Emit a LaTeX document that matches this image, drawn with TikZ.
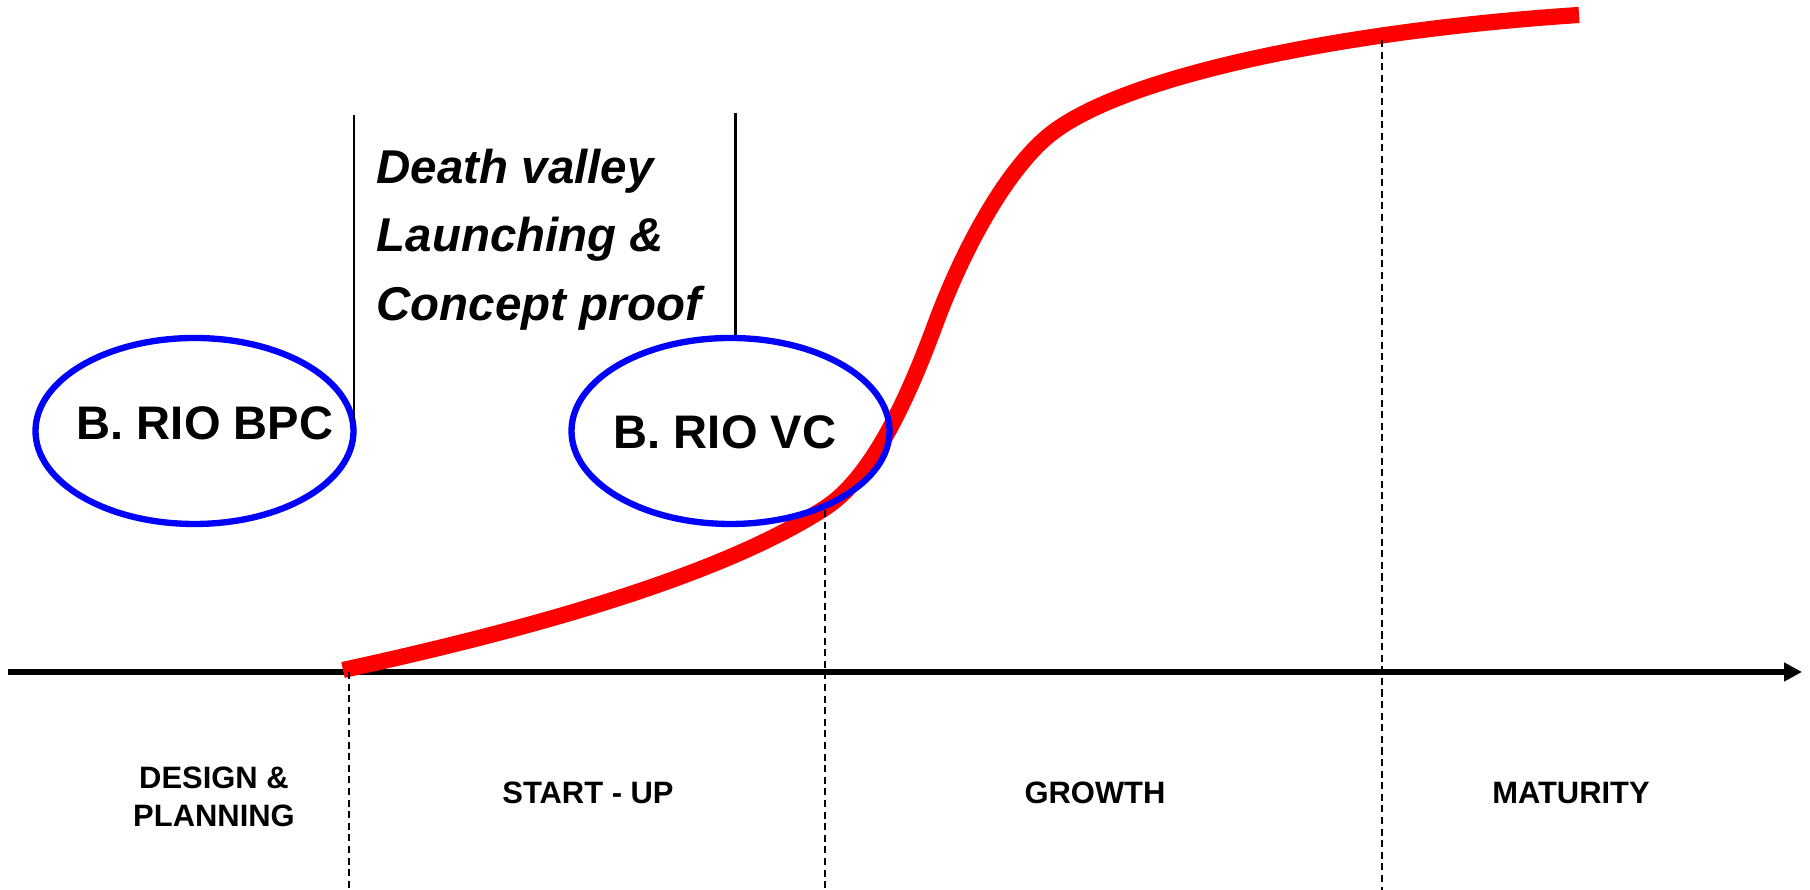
\documentclass[tikz,border=0pt]{standalone}
\usepackage{fontspec}
\setmainfont{Liberation Sans}
\usetikzlibrary{arrows.meta,shapes.geometric}
\tikzset{
	phase/.style={font=\fontsize{8.8pt}{11pt}\selectfont\bfseries, align=center, inner sep=0},
	fund/.style={draw=blue, line width=1.8pt, ellipse, minimum width=3.18cm, minimum height=1.86cm, inner sep=0},
	fundtext/.style={font=\fontsize{13.4pt}{16pt}\selectfont\bfseries, inner sep=0},
	divider/.style={line width=0.85pt},
	marker/.style={line width=0.6pt, dash pattern=on 2pt off 1.3pt}
}

\begin{document}
\begin{tikzpicture}
		%%%%% START %%%%%
		\useasboundingbox (0, 0) rectangle (18.1, 8.9);
		
		% time axis
		\draw[line width=1.8pt, -{Triangle[length=1.8mm, width=1.8mm]}] (0.08, 2.18) -- (18.02, 2.18);
		
		% life cycle curve
		\draw[red, line width=4.6pt] (3.43, 2.20) .. controls (5.45, 2.64) and (7.25, 3.17) .. (8.25, 3.82)
			.. controls (8.65, 4.08) and (9.00, 4.70) .. (9.35, 5.65)
			.. controls (9.65, 6.46) and (10.07, 7.19) .. (10.47, 7.53)
			.. controls (11.20, 8.15) and (13.50, 8.60) .. (15.79, 8.75);
		
		\coordinate (p1) at (3.49, 2.18);
		\coordinate (p2) at (8.25, 3.80);
		\coordinate (p3) at (13.82, 8.50);
		\draw[marker] (p1) -- (p1 |- 0, 0);
		\draw[marker] (p2) -- (p2 |- 0, 0);
		\draw[marker] (p3) -- (p3 |- 0, 0);
		
		% funds
		\node[fund] (bpc) at (1.945, 4.59) {};
		\node[fund] (vc) at (7.305, 4.59) {};
		\node[fundtext] (bpctxt) at (2.05, 4.67) {B. RIO BPC};
		\node[fundtext] (vctxt) at (7.25, 4.58) {B. RIO VC};
		
		% death valley
		\coordinate (d1) at (3.54, 7.75);
		\coordinate (d2) at (7.35, 7.77);
		\draw[divider] (d1) -- (3.54, 4.70);
		\draw[divider] (d2) -- (d2 |- vc.north);
		\node[anchor=north west, align=left, inner sep=0, font=\fontsize{13.5pt}{19.6pt}\selectfont\bfseries\itshape] (valley) at (3.76, 7.42) {Death valley\\Launching \&\\Concept proof};
		
		% phases
		\node[phase] (design) at (2.14, 0.93) {DESIGN \&\\PLANNING};
		\node[phase] (startup) at (5.88, 0.97) {START - UP};
		\node[phase] (growth) at (10.95, 0.97) {GROWTH};
		\node[phase] (maturity) at (15.71, 0.97) {MATURITY};
		
		%%%%% END %%%%%
	\end{tikzpicture}
\end{document}
